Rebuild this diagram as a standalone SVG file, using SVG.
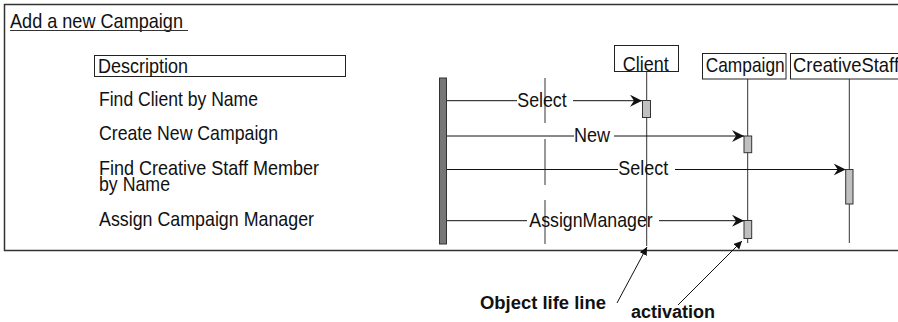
<svg xmlns="http://www.w3.org/2000/svg" width="898" height="322" viewBox="0 0 898 322">
  <style>
    .lbl { font-family: "Liberation Sans Narrow", "Liberation Sans", Arial, sans-serif; font-size: 21px; fill: #111; }
    .note { font-family: "Liberation Sans", Arial, sans-serif; font-size: 18px; font-weight: bold; fill: #111; }
    .box { fill: #fff; stroke: #222; stroke-width: 1; }
    .life { stroke: #333; stroke-width: 1; fill: none; }
    .act { fill: #c0c0c0; stroke: #333; stroke-width: 1; }
    .msg { stroke: #111; stroke-width: 1; fill: none; }
    .pointer { stroke: #111; stroke-width: 1; fill: none; }
  </style>
  <defs>
    <marker id="msgHead" markerUnits="userSpaceOnUse" markerWidth="14" markerHeight="14" refX="12" refY="6" orient="auto">
      <path d="M0,0 L12,6 L0,12 L4,6 Z" fill="#111"/>
    </marker>
    <marker id="noteHead" markerUnits="userSpaceOnUse" markerWidth="10" markerHeight="10" refX="8" refY="4" orient="auto">
      <path d="M0,0 L8,4 L0,8 Z" fill="#111"/>
    </marker>
  </defs>

  <rect width="898" height="322" fill="#fff"/>

  <!-- sequence frame -->
  <g id="frame">
    <rect x="4.5" y="4.5" width="900" height="246" fill="none" stroke="#333" stroke-width="1.5"/>
  </g>

  <!-- title -->
  <g id="title">
    <text class="lbl" x="10" y="28" textLength="173" lengthAdjust="spacingAndGlyphs">Add a new Campaign</text>
    <line x1="10" y1="30.5" x2="188" y2="30.5" stroke="#333" stroke-width="1"/>
  </g>

  <!-- step descriptions -->
  <g id="description">
    <rect class="box" x="94.5" y="55.5" width="251" height="21"/>
    <text class="lbl" x="98" y="73" textLength="90" lengthAdjust="spacingAndGlyphs">Description</text>
  </g>
  <g id="step-find-client">
    <text class="lbl" x="99" y="106" textLength="159" lengthAdjust="spacingAndGlyphs">Find Client by Name</text>
  </g>
  <g id="step-create-campaign">
    <text class="lbl" x="99" y="139.5" textLength="179" lengthAdjust="spacingAndGlyphs">Create New Campaign</text>
  </g>
  <g id="step-find-staff">
    <text class="lbl" x="99" y="175" textLength="220" lengthAdjust="spacingAndGlyphs">Find Creative Staff Member</text>
    <text class="lbl" x="99" y="190.5" textLength="71" lengthAdjust="spacingAndGlyphs">by Name</text>
  </g>
  <g id="step-assign-manager">
    <text class="lbl" x="99" y="226" textLength="215" lengthAdjust="spacingAndGlyphs">Assign Campaign Manager</text>
  </g>

  <!-- system boundary bar -->
  <g id="system">
    <rect x="439.5" y="78" width="7" height="166" fill="#777" stroke="#333" stroke-width="1"/>
  </g>

  <!-- broken guide line -->
  <g id="guide">
    <line class="life" x1="545" y1="78" x2="545" y2="123"/>
    <line class="life" x1="545" y1="139" x2="545" y2="185"/>
    <line class="life" x1="545" y1="200" x2="545" y2="244"/>
  </g>

  <!-- objects with lifelines and activations -->
  <g id="client">
    <line class="life" x1="646.7" y1="71.5" x2="646.7" y2="246"/>
    <rect class="box" x="614.5" y="45.5" width="64" height="26" fill="none"/>
    <text class="lbl" x="622.7" y="71" textLength="46" lengthAdjust="spacingAndGlyphs">Client</text>
    <rect class="act" x="642.5" y="100.5" width="8" height="17"/>
  </g>
  <g id="campaign">
    <line class="life" x1="747.7" y1="79" x2="747.7" y2="243"/>
    <rect class="box" x="702.5" y="53.5" width="83.5" height="25.5"/>
    <text class="lbl" x="705.7" y="71.5" textLength="79" lengthAdjust="spacingAndGlyphs">Campaign</text>
    <rect class="act" x="744" y="136" width="7.7" height="16.7"/>
    <rect class="act" x="744" y="220.5" width="7.7" height="18"/>
  </g>
  <g id="creative-staff">
    <line class="life" x1="849.3" y1="79" x2="849.3" y2="243"/>
    <rect class="box" x="790.5" y="53.5" width="120" height="25.5"/>
    <text class="lbl" x="793" y="71.5" textLength="106" lengthAdjust="spacingAndGlyphs">CreativeStaff</text>
    <rect class="act" x="845.7" y="169.5" width="7.3" height="34.5"/>
  </g>

  <!-- messages and pointers -->
  <g id="connectors">
    <line class="msg" x1="447" y1="100.7" x2="517" y2="100.7"/>
    <line class="msg" x1="573" y1="100.7" x2="642" y2="100.7" marker-end="url(#msgHead)"/>
    <line class="msg" x1="447" y1="136" x2="574" y2="136"/>
    <line class="msg" x1="614" y1="136" x2="744" y2="136" marker-end="url(#msgHead)"/>
    <line class="msg" x1="447" y1="169.5" x2="618" y2="169.5"/>
    <line class="msg" x1="675" y1="169.5" x2="845.7" y2="169.5" marker-end="url(#msgHead)"/>
    <line class="msg" x1="447" y1="220.7" x2="527" y2="220.7"/>
    <line class="msg" x1="659" y1="220.7" x2="744" y2="220.7" marker-end="url(#msgHead)"/>

    <line class="pointer" x1="617" y1="303" x2="647" y2="247" marker-end="url(#noteHead)"/>
    <line class="pointer" x1="678" y1="305" x2="742" y2="241" marker-end="url(#noteHead)"/>
  </g>

  <!-- message labels -->
  <g id="message-labels">
    <text class="lbl" x="517.3" y="106.7" textLength="49.4" lengthAdjust="spacingAndGlyphs">Select</text>
    <text class="lbl" x="574" y="141.7" textLength="36" lengthAdjust="spacingAndGlyphs">New</text>
    <text class="lbl" x="618.3" y="175" textLength="50" lengthAdjust="spacingAndGlyphs">Select</text>
    <text class="lbl" x="529.3" y="226.7" textLength="123.4" lengthAdjust="spacingAndGlyphs">AssignManager</text>
  </g>

  <!-- annotations -->
  <g id="annotations">
    <text class="note" x="480" y="309" textLength="126" lengthAdjust="spacingAndGlyphs">Object life line</text>
    <text class="note" x="631" y="318" textLength="84" lengthAdjust="spacingAndGlyphs">activation</text>
  </g>
</svg>
